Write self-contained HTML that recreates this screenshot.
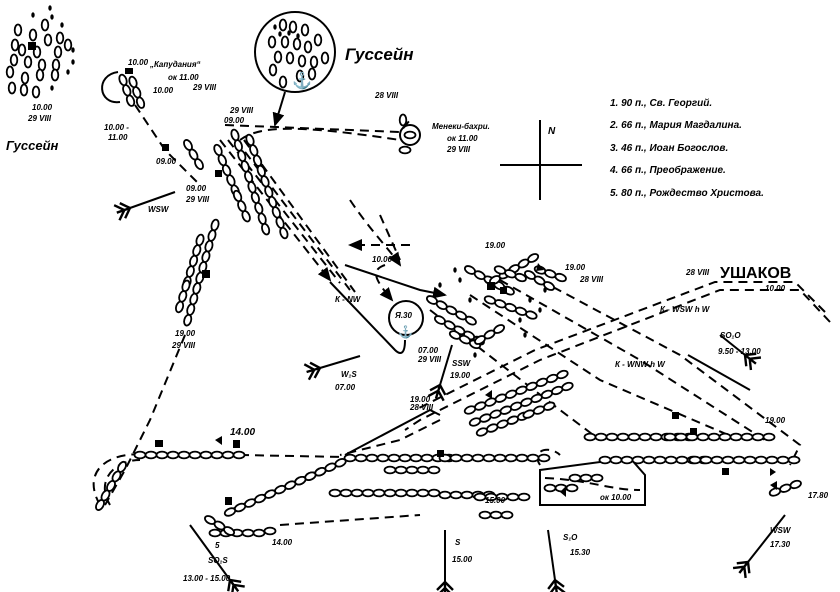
<!DOCTYPE html>
<html><head><meta charset="utf-8">
<style>
html,body{margin:0;padding:0;background:#fff;}
svg{display:block;}
text{font-family:"Liberation Sans",sans-serif;font-style:italic;font-weight:bold;fill:#000;}
.s{font-size:8px;}
.m{font-size:10px;}
</style></head>
<body>
<svg width="840" height="592" viewBox="0 0 840 592" xmlns="http://www.w3.org/2000/svg">
<defs>
 <ellipse id="s" cx="0" cy="0" rx="5.5" ry="3.4" fill="#fff" stroke="#000" stroke-width="1.8"/>
 <ellipse id="v" cx="0" cy="0" rx="3.3" ry="5.5" fill="#fff" stroke="#000" stroke-width="1.8"/>
 <ellipse id="d" cx="0" cy="0" rx="1.7" ry="2.7" fill="#000"/>
 <g id="c5"><use href="#s" x="0"/><use href="#s" x="11"/><use href="#s" x="22"/><use href="#s" x="33"/><use href="#s" x="44"/></g>
 <g id="c10"><use href="#c5" x="0"/><use href="#c5" x="55"/></g>
 <g id="c3"><use href="#s" x="0"/><use href="#s" x="11"/><use href="#s" x="22"/></g>
 <marker id="a" markerWidth="8" markerHeight="8" refX="6" refY="4" orient="auto"><path d="M0,1 L7,4 L0,7 z" fill="#000"/></marker>
 <marker id="f" markerWidth="10" markerHeight="10" refX="2" refY="5" orient="auto"><path d="M9,5 L2,5 M9,1 L5,5 L9,9 M6,1 L2,5 L6,9" fill="none" stroke="#000" stroke-width="1.2"/></marker>
</defs>
<g fill="none" stroke="#000" stroke-width="2">
 <g stroke-dasharray="9,6">
  <path d="M185,335 L150,420 L125,470 L105,505"/>
  <path d="M100,505 C80,470 110,450 150,455"/>
  <path d="M110,505 C95,480 115,460 140,460"/>
  <path d="M240,455 L345,457"/>
  <path d="M280,525 L350,520 L420,515"/>
  <path d="M225,125 L400,132 L410,120"/>
  <path d="M240,140 C260,125 300,125 400,140"/>
  <path d="M135,105 L165,150 L200,185"/>
  <path d="M220,140 L330,280" marker-end="url(#a)"/>
  <path d="M228,140 L340,283"/>
  <path d="M236,140 L350,290"/>
  <path d="M244,140 L355,292"/>
  <path d="M350,200 C370,230 390,250 400,265" marker-end="url(#a)"/>
  <path d="M380,215 L400,260"/>
  <path d="M410,245 L350,245" marker-end="url(#a)"/>
  <path d="M385,265 C370,270 375,280 392,300" marker-end="url(#a)"/>
  <path d="M830,322 L800,290 L720,290 L540,360 L420,420 L405,430"/>
  <path d="M825,312 L795,282 L715,282 L535,350 L415,410"/>
  <path d="M540,280 L680,355 L800,445 L790,465"/>
  <path d="M500,280 L640,360 L765,440"/>
  <path d="M470,295 L600,380 L740,440"/>
  <path d="M430,310 L560,410 L600,440"/>
  <path d="M540,465 C530,450 550,445 560,455"/>
  <path d="M440,420 L400,440 L340,455"/>
  <path d="M545,478 C590,480 610,490 640,490"/>
 </g>
 <path d="M330,282 L395,350 C400,355 405,355 405,340"/>
 <path d="M345,455 L430,410 L440,415"/>
 <path d="M345,265 L420,290 L445,295" marker-end="url(#a)"/>
 <path d="M230,510 L345,460"/>
 <polygon points="540,470 630,458 645,475 645,505 540,505"/>
 <circle cx="295" cy="52" r="40"/>
 <path d="M285,92 L275,125" marker-end="url(#a)"/>
 <path d="M118,72 C95,75 98,105 120,102"/>
 <circle cx="406" cy="318" r="17"/>
 <circle cx="410" cy="135" r="10"/>
 <path d="M540,120 L540,200 M500,165 L582,165"/>
 <path d="M175,192 L130,208" marker-end="url(#f)"/>
 <path d="M360,356 L320,368" marker-end="url(#f)"/>
 <path d="M452,345 L440,385" marker-end="url(#f)"/>
 <path d="M720,335 L745,355" marker-end="url(#f)"/>
 <path d="M445,530 L445,582" marker-end="url(#f)"/>
 <path d="M548,530 L555,580" marker-end="url(#f)"/>
 <path d="M190,525 L230,580" marker-end="url(#f)"/>
 <path d="M785,515 L748,562" marker-end="url(#f)"/>
 <path d="M688,355 L750,390"/>
</g>

<use href="#c10" x="350" y="458"/><use href="#c10" x="445" y="458"/>
<use href="#c10" x="335" y="493"/><use href="#c5" x="445" y="495"/><use href="#c5" x="480" y="497"/>
<use href="#c10" x="140" y="455"/>
<g transform="translate(100,505) rotate(-60)"><use href="#c5"/></g>
<g transform="translate(230,512) rotate(-24)"><use href="#c10"/><use href="#c5" x="77"/></g>
<use href="#c5" x="215" y="533"/><use href="#s" x="270" y="531"/>
<g transform="translate(210,520) rotate(30)"><use href="#c3"/></g>
<g transform="translate(470,410) rotate(-21)"><use href="#c10"/></g>
<g transform="translate(475,422) rotate(-21)"><use href="#c10"/></g>
<g transform="translate(482,432) rotate(-21)"><use href="#c5"/><use href="#c3" x="50"/></g>
<use href="#c10" x="590" y="437"/><use href="#c10" x="670" y="437"/>
<use href="#c10" x="605" y="460"/><use href="#c10" x="695" y="460"/>
<use href="#c3" x="550" y="488"/><use href="#c3" x="575" y="478"/>
<g transform="translate(775,492) rotate(-20)"><use href="#c3"/></g>
<use href="#c3" x="485" y="515"/>
<use href="#c5" x="390" y="470"/>
<g transform="translate(235,135) rotate(72)"><use href="#c10"/></g>
<g transform="translate(250,140) rotate(70)"><use href="#c10"/></g>
<g transform="translate(218,150) rotate(67)"><use href="#c5"/><use href="#c3" x="50"/></g>
<g transform="translate(215,225) rotate(106)"><use href="#c10"/></g>
<g transform="translate(200,240) rotate(107)"><use href="#c5"/><use href="#c3" x="48"/></g>
<g transform="translate(188,145) rotate(60)"><use href="#c3"/></g>
<g transform="translate(123,80) rotate(70)"><use href="#c3"/></g>
<g transform="translate(133,82) rotate(70)"><use href="#c3"/></g>
<use href="#v" x="403" y="120"/><use href="#s" x="410" y="135"/><use href="#s" x="405" y="150"/>
<g>
 <use href="#v" x="18" y="30"/><use href="#v" x="45" y="25"/><use href="#v" x="33" y="35"/>
 <use href="#v" x="15" y="45"/><use href="#v" x="48" y="40"/><use href="#v" x="60" y="38"/><use href="#v" x="68" y="45"/>
 <use href="#v" x="22" y="50"/><use href="#v" x="37" y="52"/><use href="#v" x="58" y="52"/>
 <use href="#v" x="14" y="60"/><use href="#v" x="28" y="62"/><use href="#v" x="42" y="65"/><use href="#v" x="56" y="65"/>
 <use href="#v" x="10" y="72"/><use href="#v" x="25" y="78"/><use href="#v" x="40" y="75"/><use href="#v" x="55" y="75"/>
 <use href="#v" x="12" y="88"/><use href="#v" x="24" y="90"/><use href="#v" x="36" y="92"/>
 <use href="#d" x="50" y="8"/><use href="#d" x="33" y="15"/><use href="#d" x="52" y="17"/><use href="#d" x="62" y="25"/>
 <use href="#d" x="73" y="50"/><use href="#d" x="73" y="62"/><use href="#d" x="68" y="72"/><use href="#d" x="52" y="88"/>
</g>
<g>
 <use href="#v" x="283" y="25"/><use href="#v" x="293" y="27"/><use href="#v" x="305" y="30"/><use href="#v" x="318" y="40"/>
 <use href="#v" x="272" y="42"/><use href="#v" x="285" y="42"/><use href="#v" x="297" y="44"/><use href="#v" x="308" y="47"/>
 <use href="#v" x="278" y="57"/><use href="#v" x="290" y="58"/><use href="#v" x="302" y="61"/><use href="#v" x="314" y="62"/><use href="#v" x="325" y="58"/>
 <use href="#v" x="273" y="70"/><use href="#v" x="300" y="76"/><use href="#v" x="312" y="74"/><use href="#v" x="283" y="82"/>
 <use href="#d" x="275" y="27"/><use href="#d" x="280" y="34"/><use href="#d" x="289" y="33"/><use href="#d" x="298" y="36"/>
</g>
<text x="292" y="86" style="font-size:16px;font-style:normal;font-weight:normal">⚓</text>
<text x="398" y="336" style="font-size:12px;font-style:normal;font-weight:normal">⚓</text>
<g>
 <g transform="translate(432,300) rotate(28)"><use href="#c5"/></g>
 <g transform="translate(440,320) rotate(28)"><use href="#c5"/></g>
 <g transform="translate(455,335) rotate(25)"><use href="#c3"/></g>
 <g transform="translate(470,270) rotate(28)"><use href="#c5"/></g>
 <g transform="translate(490,300) rotate(20)"><use href="#c5"/></g>
 <g transform="translate(495,280) rotate(-30)"><use href="#c5"/></g>
 <g transform="translate(500,270) rotate(20)"><use href="#c3"/></g>
 <g transform="translate(530,275) rotate(30)"><use href="#c3"/></g>
 <g transform="translate(540,270) rotate(20)"><use href="#c3"/></g>
 <g transform="translate(480,340) rotate(-30)"><use href="#c3"/></g>
 <use href="#d" x="440" y="285"/><use href="#d" x="455" y="270"/><use href="#d" x="460" y="280"/>
 <use href="#d" x="470" y="300"/><use href="#d" x="475" y="355"/><use href="#d" x="520" y="320"/>
 <use href="#d" x="525" y="335"/><use href="#d" x="540" y="310"/><use href="#d" x="545" y="290"/><use href="#d" x="530" y="300"/>
</g>
<g fill="#000">
 <rect x="155" y="440" width="8" height="7"/><rect x="233" y="440" width="7" height="8"/>
 <rect x="437" y="450" width="7" height="7"/><rect x="690" y="428" width="7" height="7"/>
 <rect x="722" y="468" width="7" height="7"/><rect x="672" y="412" width="7" height="7"/>
 <rect x="202" y="270" width="8" height="8"/><rect x="487" y="282" width="8" height="8"/>
 <rect x="500" y="287" width="7" height="7"/><rect x="225" y="497" width="7" height="8"/>
 <rect x="28" y="42" width="8" height="8"/><rect x="125" y="68" width="8" height="6"/>
 <rect x="162" y="144" width="7" height="7"/><rect x="215" y="170" width="7" height="7"/>
 <polygon points="215,440 222,436 222,445"/><polygon points="538,263 544,270 536,271"/>
 <polygon points="560,492 566,486 566,497"/><polygon points="770,468 776,472 770,476"/>
 <polygon points="485,395 492,390 492,399"/><polygon points="770,485 777,481 777,490"/>
</g>
<g>
 <text x="345" y="60" style="font-size:17px">Гуссейн</text>
 <text x="6" y="150" style="font-size:13px">Гуссейн</text>
 <text x="720" y="278" style="font-size:16px;font-style:normal">УШАКОВ</text>
 <text x="686" y="275" class="s">28 VIII</text>
 <text x="765" y="291" class="s">10.00</text>
 <text x="610" y="106" class="m">1. 90 п., Св. Георгий.</text>
 <text x="610" y="128" class="m">2. 66 п., Мария Магдалина.</text>
 <text x="610" y="151" class="m">3. 46 п., Иоан Богослов.</text>
 <text x="610" y="173" class="m">4. 66 п., Преображение.</text>
 <text x="610" y="196" class="m">5. 80 п., Рождество Христова.</text>
 <text x="548" y="134" class="m">N</text>
 <text x="32" y="110" class="s">10.00</text><text x="28" y="121" class="s">29 VIII</text>
 <text x="128" y="65" class="s">10.00</text><text x="150" y="67" class="s">„Капудания“</text>
 <text x="168" y="80" class="s">ок 11.00</text><text x="193" y="90" class="s">29 VIII</text>
 <text x="153" y="93" class="s">10.00</text>
 <text x="104" y="130" class="s">10.00 -</text><text x="108" y="140" class="s">11.00</text>
 <text x="156" y="164" class="s">09.00</text>
 <text x="186" y="191" class="s">09.00</text><text x="186" y="202" class="s">29 VIII</text>
 <text x="148" y="212" class="s">WSW</text>
 <text x="230" y="113" class="s">29 VIII</text><text x="224" y="123" class="s">09.00</text>
 <text x="375" y="98" class="s">28 VIII</text>
 <text x="432" y="129" class="s">Менеки-бахри.</text>
 <text x="447" y="141" class="s">ок 11.00</text><text x="447" y="152" class="s">29 VIII</text>
 <text x="175" y="336" class="s">19.00</text><text x="172" y="348" class="s">29 VIII</text>
 <text x="335" y="302" class="s">К - NW</text>
 <text x="372" y="262" class="s">10.00</text>
 <text x="395" y="318" class="s">Я.30</text>
 <text x="418" y="353" class="s">07.00</text><text x="418" y="362" class="s">29 VIII</text>
 <text x="341" y="377" class="s">W₁S</text><text x="335" y="390" class="s">07.00</text>
 <text x="452" y="366" class="s">SSW</text><text x="450" y="378" class="s">19.00</text>
 <text x="485" y="248" class="s">19.00</text>
 <text x="565" y="270" class="s">19.00</text><text x="580" y="282" class="s">28 VIII</text>
 <text x="660" y="312" class="s">К - WSW h W</text>
 <text x="615" y="367" class="s">К - WNW h W</text>
 <text x="720" y="338" class="s">SO₁O</text><text x="718" y="354" class="s">9.50 - 13.00</text>
 <text x="765" y="423" class="s">19.00</text>
 <text x="808" y="498" class="s">17.80</text>
 <text x="770" y="533" class="s">WSW</text><text x="770" y="547" class="s">17.30</text>
 <text x="410" y="402" class="s">19.00</text><text x="410" y="410" class="s">28 VIII</text>
 <text x="230" y="435" class="m">14.00</text>
 <text x="272" y="545" class="s">14.00</text>
 <text x="215" y="548" class="s">5</text>
 <text x="208" y="563" class="s">SO₁S</text><text x="183" y="581" class="s">13.00 - 15.00</text>
 <text x="455" y="545" class="s">S</text><text x="452" y="562" class="s">15.00</text>
 <text x="563" y="540" class="s">S₁O</text><text x="570" y="555" class="s">15.30</text>
 <text x="600" y="500" class="s">ок 10.00</text>
 <text x="485" y="503" class="s">15.00</text>
</g>
</svg>
</body></html>
